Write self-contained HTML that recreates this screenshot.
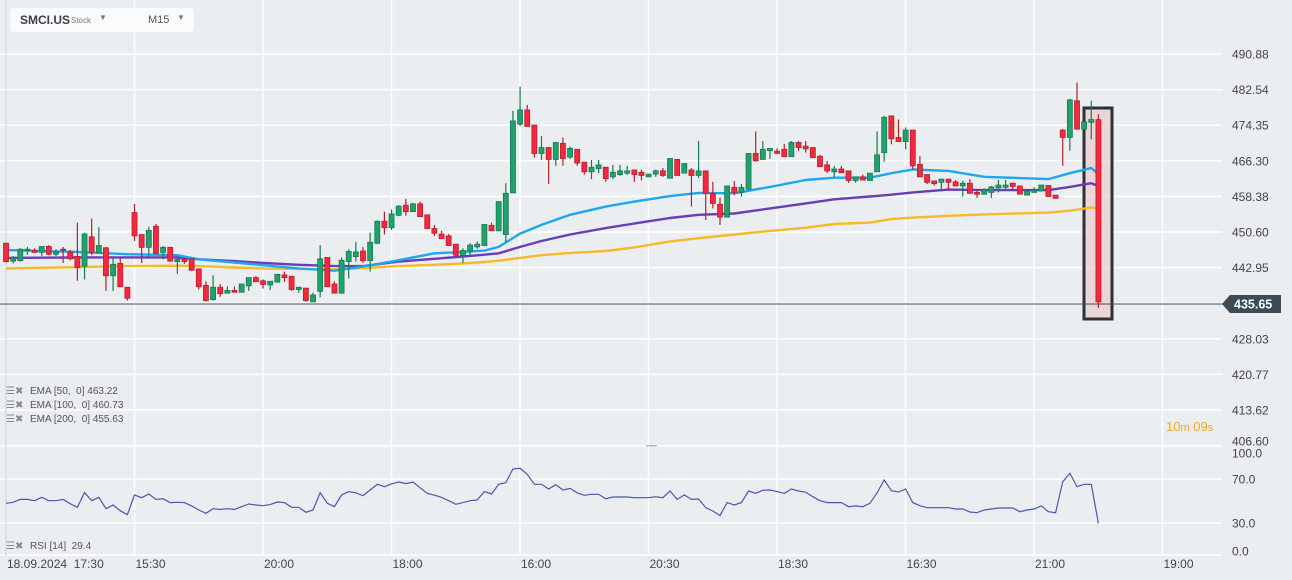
<!DOCTYPE html>
<html><head><meta charset="utf-8">
<style>
html,body{margin:0;padding:0;background:#ebeef1;}
#wrap{position:relative;width:1292px;height:580px;overflow:hidden;font-family:"Liberation Sans",sans-serif;background:#ebeef1;}
svg{position:absolute;left:0;top:0;}
.hdr{position:absolute;left:10px;top:8px;width:184px;height:24px;background:#fafbfc;border-radius:3px;box-shadow:0 0 1px rgba(0,0,0,0.1);}
.leg{position:absolute;left:6px;font-size:10px;color:#555;white-space:nowrap;}
.leg i{display:inline-block;font-style:normal;color:#888;width:24px;font-size:10px;}
</style></head>
<body>
<div id="wrap">
<svg id="chart" width="1292" height="580"></svg>
<div class="hdr">
  <span style="position:absolute;left:10px;top:5px;font-size:12px;font-weight:bold;color:#3a3f45;">SMCI.US</span>
  <span style="position:absolute;left:61px;top:8px;font-size:8px;color:#777;">Stock</span>
  <span style="position:absolute;left:89px;top:5px;font-size:8px;color:#777;">▼</span>
  <span style="position:absolute;left:138px;top:6px;font-size:11px;color:#555;">M15</span>
  <span style="position:absolute;left:167px;top:5px;font-size:8px;color:#777;">▼</span>
</div>
<div class="leg" style="top:386px"><i>☰✖</i>EMA [50,&nbsp; 0] 463.22</div>
<div class="leg" style="top:400px"><i>☰✖</i>EMA [100,&nbsp; 0] 460.73</div>
<div class="leg" style="top:414px"><i>☰✖</i>EMA [200,&nbsp; 0] 455.63</div>
<div class="leg" style="top:541px"><i>☰✖</i>RSI [14]&nbsp; 29.4</div>
<div style="position:absolute;left:1166px;top:419px;color:#f5a623;font-size:13px;">10<span style="font-size:11px">m</span> 09<span style="font-size:11px">s</span></div>
</div>
<script>
const O=[448.9,445.0,445.1,447.3,447.3,446.9,448.2,446.5,447.6,447.0,
446.0,443.9,450.3,446.8,447.9,441.8,444.5,439.3,455.6,450.8,
448.0,452.6,446.9,448.0,444.9,445.4,445.5,443.3,439.7,436.6,
439.3,438.0,438.6,438.2,439.6,441.4,440.7,439.8,440.4,442.0,
441.7,438.8,439.1,436.1,438.4,445.8,440.0,438.0,444.9,446.0,
447.2,445.1,448.9,453.7,452.3,455.0,457.2,455.8,457.5,455.1,
452.1,450.9,450.5,448.7,446.2,447.2,448.1,448.4,452.8,451.6,
450.8,459.9,474.9,478.0,474.7,468.5,469.8,467.2,470.7,467.7,
469.4,466.6,464.5,465.2,465.5,463.4,463.9,464.2,464.9,464.4,
463.4,464.0,464.7,463.1,467.2,464.2,464.9,463.7,464.7,459.8,
457.4,454.6,461.1,460.0,460.7,468.5,467.2,469.1,469.0,469.4,
467.8,470.9,470.1,469.8,467.9,466.0,464.5,465.1,464.7,462.6,
463.4,462.6,464.5,468.7,476.7,472.0,471.1,473.6,466.1,463.9,
462.5,462.2,462.9,462.3,461.4,462.0,460.0,459.6,460.0,461.0,
461.1,462.0,461.4,459.4,460.0,460.3,461.5,459.4,473.6,472.0,
480.0,473.8,475.3,475.9];
const H=[449.0,446.1,447.8,448.1,447.8,448.2,448.5,447.6,448.1,447.4,
453.4,451.2,454.3,452.4,448.1,445.8,445.6,439.3,457.5,450.8,
452.5,453.1,448.3,448.1,446.1,445.8,445.6,443.4,440.6,441.9,
440.0,439.5,439.5,440.0,441.4,441.7,441.0,440.6,442.1,442.7,
441.7,439.3,439.1,438.1,448.5,445.8,440.6,445.8,447.6,449.2,
448.1,451.2,453.9,455.8,456.3,457.2,458.6,457.7,458.0,455.2,
452.9,451.6,450.9,448.7,447.8,448.9,449.3,453.0,453.4,458.0,
462.0,477.8,483.1,479.1,474.7,472.3,469.8,470.9,472.0,470.0,
469.4,466.6,467.1,467.1,465.5,466.0,466.0,465.8,464.9,465.0,
464.0,465.0,465.3,467.4,467.2,466.3,465.3,471.2,464.7,462.3,
458.9,461.4,462.5,461.8,468.5,473.3,471.2,469.6,469.6,470.6,
471.2,471.2,471.2,469.8,468.2,466.9,465.8,465.8,464.7,463.4,
463.9,464.2,473.3,476.7,476.7,475.9,474.2,473.6,467.9,463.9,
462.5,462.9,462.9,462.7,462.5,462.9,460.5,460.9,461.4,462.7,
462.7,462.0,461.4,460.3,461.1,461.6,461.5,459.4,473.8,480.4,
484.0,475.4,480.0,477.1];
const L=[444.7,444.5,444.9,446.4,446.8,446.1,446.3,446.1,444.6,445.2,
440.7,441.0,446.3,446.8,438.5,438.5,439.4,436.4,449.4,444.6,
445.8,446.5,445.4,444.9,442.2,444.4,442.9,438.8,436.2,436.4,
437.2,438.0,438.2,438.2,438.5,440.5,439.0,438.7,440.4,440.5,
438.5,438.1,436.1,436.1,437.1,439.4,438.0,438.0,441.2,444.9,
444.6,442.7,448.7,450.8,451.8,454.8,454.9,455.8,454.7,452.0,
450.5,449.9,448.4,446.1,444.6,446.1,447.7,448.4,451.6,451.6,
449.2,459.9,474.5,474.4,467.6,467.1,461.8,465.8,465.8,467.3,
465.8,463.9,462.9,464.2,462.3,462.9,463.6,463.8,462.3,462.6,
463.4,463.4,463.4,463.1,463.7,464.2,456.9,463.1,454.0,456.5,
452.9,454.6,459.4,459.1,460.7,466.7,467.2,467.3,468.5,467.8,
467.8,469.0,468.7,467.6,465.6,464.2,463.3,464.2,462.1,462.1,
462.7,462.6,464.5,466.7,470.5,471.1,469.4,465.0,463.3,461.8,
461.5,460.2,460.5,461.4,459.1,459.8,458.8,459.6,458.8,460.0,
460.5,460.7,459.6,459.4,460.0,460.3,459.1,458.7,465.8,469.1,
473.8,473.8,471.6,434.8];
const C=[444.9,445.7,447.6,447.6,446.9,448.2,446.5,447.0,447.4,445.5,
443.6,450.9,446.9,448.4,441.8,444.3,439.4,436.9,450.5,448.0,
451.7,446.7,448.0,445.0,445.4,444.9,443.0,439.4,436.4,439.3,
437.9,438.6,438.2,440.0,441.4,440.5,439.9,440.6,442.1,441.4,
438.8,439.3,436.4,437.6,445.5,439.4,438.0,445.2,447.1,447.0,
445.1,449.1,453.7,452.3,455.3,457.0,455.8,457.5,454.7,452.1,
451.1,449.9,448.4,446.3,447.3,448.5,448.7,453.0,451.6,458.0,
459.8,475.6,478.0,474.4,468.5,469.8,467.2,470.9,467.4,469.6,
466.4,464.5,465.5,466.0,463.0,464.4,464.7,464.7,463.9,463.7,
464.0,464.7,463.7,467.4,463.7,466.3,463.7,464.7,459.8,457.6,
454.6,461.4,460.0,461.1,468.5,466.9,469.4,469.6,468.5,467.8,
470.9,469.8,469.5,467.6,465.6,464.7,465.1,464.3,462.6,463.4,
462.7,464.2,468.2,476.4,471.7,471.1,473.6,465.8,463.4,462.2,
461.9,462.9,462.2,461.4,462.0,459.8,459.6,460.5,461.2,461.6,
461.6,461.3,459.6,460.3,460.5,461.6,459.1,458.7,472.0,480.2,
473.8,475.4,475.9,436.1];
const emaIdx=[0,10,17,24,27,32,36,41,46,50,55,60,64,67,69,72,75,79,84,88,93,97,102,107,112,116,121,124,127,132,137,146,149,152,153];
const ema50=[447.4,447.0,446.5,446.3,445.4,444.7,444.1,443.4,442.9,443.8,445.2,446.7,447.0,447.3,448.1,451.0,452.9,455.1,456.9,458.0,459.2,459.9,459.8,461.2,462.7,463.2,463.2,464.2,465.0,464.7,463.4,462.9,464.2,465.3,464.0];
const ema100=[445.7,445.8,445.8,445.8,445.4,445.0,444.6,444.2,443.9,443.9,444.9,445.5,446.0,446.4,446.7,448.1,449.4,450.8,452.2,453.2,454.4,455.1,455.4,456.5,457.6,458.5,459.1,459.5,460.0,460.6,460.5,460.5,461.2,462.0,461.4];
const ema200=[443.4,443.7,443.9,444.0,443.9,443.6,443.4,443.3,443.2,443.5,443.9,444.2,444.5,444.8,445.1,445.7,446.3,446.8,447.2,448.0,449.3,450.0,450.8,451.6,452.3,453.1,453.4,454.2,454.5,454.9,455.2,455.6,456.0,456.7,456.4];
const rsi=[47.9,48.8,51.5,51.5,50.3,53.4,50.3,50.3,51.5,47.5,
44.3,57.6,50.3,53.4,43.0,46.4,41.2,37.6,55.5,53.0,
56.4,51.5,52.0,48.5,48.8,48.5,45.5,41.8,38.8,43.0,
42.4,43.0,42.4,44.8,47.3,46.4,45.7,46.7,49.1,48.5,
44.3,44.3,39.7,41.8,57.5,47.9,44.8,55.5,58.5,57.5,
54.8,60.0,65.2,63.0,65.5,67.3,65.8,67.3,62.0,57.0,
55.3,53.4,50.3,47.0,48.5,50.3,50.9,58.5,56.4,65.2,
66.7,79.1,79.7,74.3,65.2,65.2,60.9,64.8,60.0,61.5,
57.5,55.2,56.1,56.1,52.1,53.6,53.6,53.6,53.0,53.0,
53.0,53.9,53.0,59.1,51.5,55.5,51.5,51.8,43.9,40.9,
36.7,48.5,46.4,48.5,59.1,57.0,59.7,60.0,58.5,57.0,
60.9,59.1,57.9,53.9,50.3,48.5,48.5,48.5,44.8,45.5,
44.8,47.9,57.5,69.1,59.4,58.2,60.9,48.5,45.7,43.9,
43.9,43.9,43.9,42.7,42.7,40.0,39.4,41.8,42.7,43.6,
43.6,43.6,40.3,41.8,42.7,45.5,40.3,39.4,67.5,75.2,
63.0,65.2,65.2,29.7];
const priceTicks=["490.88","482.54","474.35","466.30","458.38","450.60","442.95","","428.03","420.77","413.62","406.60"];
const rsiTicks=[100,70,30,0];
const rsiTickLabels=["100.0","70.0","30.0","0.0"];
const timeLabels=["18.09.2024  17:30","15:30","20:00","18:00","16:00","20:30","18:30","16:30","21:00","19:00"];
const lastPrice=435.65;

const NS="http://www.w3.org/2000/svg";
const svg=document.getElementById('chart');
function xOf(i){return 6+i*7.14;}
function yOf(p){return (502.0-p)/0.2183;}
function gridY(k){return 54+k*35.6;}
function rsiY(v){return 479-(v-70)*1.1;}
function gridX(k){return 6+k*128.5;}
function mk(tag,attrs,parent){const e=document.createElementNS(NS,tag);for(const k in attrs)e.setAttribute(k,attrs[k]);(parent||svg).appendChild(e);return e;}

// grid
for(let k=0;k<12;k++){
  const g=mk('line',{x1:0,x2:1222,y1:gridY(k),y2:gridY(k),stroke:'#ffffff','stroke-width':1.5});
  
  
}
[446,479,523,555].forEach(y=>{
  const g=mk('line',{x1:0,x2:1222,y1:y,y2:y,stroke:'#ffffff','stroke-width':1.5});
  
  
});
for(let k=0;k<timeLabels.length;k++){
  const g=mk('line',{x1:gridX(k),x2:gridX(k),y1:0,y2:556,stroke:k==0?'#d8dce0':'#ffffff','stroke-width':1.5});
  
  
}
// splitter mark
const sp=mk('rect',{x:646,y:445,width:11,height:1.5,fill:'#b8bcc0'});



// highlight box
const hb=mk('rect',{x:1084,y:108,width:28,height:211,fill:'rgba(235,205,205,0.75)',stroke:'#2a3238','stroke-width':3});



// EMA lines
function emaLine(vals,color,name){
  let d='';
  for(let j=0;j<emaIdx.length;j++){d+=(j?'L':'M')+xOf(emaIdx[j]).toFixed(1)+' '+yOf(vals[j]).toFixed(1);}
  const p=mk('path',{d:d,fill:'none',stroke:color,'stroke-width':2.4,'stroke-linejoin':'round'});
  
  
}
emaLine(ema200,'#f8b928','ema200-line');
emaLine(ema100,'#6a3db8','ema100-line');
emaLine(ema50,'#1ba8ee','ema50-line');

// candles
for(let i=0;i<O.length;i++){
  const up=C[i]>=O[i];
  const fill=up?'#1fa36c':'#f4283f', st=up?'#157a4e':'#b81d2e';
  const x=xOf(i);
  const g=mk('g',{});
  
  
  mk('line',{x1:x,x2:x,y1:yOf(H[i]),y2:yOf(L[i]),stroke:st,'stroke-width':1.2},g);
  const top=yOf(Math.max(O[i],C[i])), bot=yOf(Math.min(O[i],C[i]));
  mk('rect',{x:x-2.5,y:top,width:5,height:Math.max(1,bot-top),fill:fill,stroke:st,'stroke-width':0.8},g);
}

// current price line
const cpl=mk('line',{x1:0,x2:1222,y1:yOf(lastPrice),y2:yOf(lastPrice),stroke:'#3d4b57','stroke-width':1});


const ty=yOf(lastPrice);
const tag=mk('path',{d:`M1222 ${ty} L1230 ${ty-9} L1281 ${ty-9} L1281 ${ty+9} L1230 ${ty+9} Z`,fill:'#3d4b57'});


const tt=mk('text',{x:1234,y:ty+4.5,fill:'#ffffff','font-size':12.5,'font-weight':'bold','font-family':'Liberation Sans, sans-serif'});
tt.textContent=lastPrice.toFixed(2);



// price axis labels
for(let k=0;k<priceTicks.length;k++){
  if(!priceTicks[k])continue;
  const t=mk('text',{x:1232,y:Math.min(gridY(k),441)+4.5,fill:'#444','font-size':12,'font-family':'Liberation Sans, sans-serif'});
  t.textContent=priceTicks[k];
  
  
}
// RSI
let d='';
for(let i=0;i<rsi.length;i++){d+=(i?'L':'M')+xOf(i).toFixed(1)+' '+rsiY(rsi[i]).toFixed(1);}
const rl=mk('path',{d:d,fill:'none',stroke:'#4b56b2','stroke-width':1.2});


for(let k=0;k<rsiTicks.length;k++){
  const t=mk('text',{x:1232,y:Math.max(453,Math.min(rsiY(rsiTicks[k]),551))+4.5,fill:'#444','font-size':12,'font-family':'Liberation Sans, sans-serif'});
  t.textContent=rsiTickLabels[k];
  
  
}
// time labels
for(let k=0;k<timeLabels.length;k++){
  const t=mk('text',{x:gridX(k)+1,y:568,fill:'#444','font-size':12,'font-family':'Liberation Sans, sans-serif','xml:space':'preserve'});
  t.setAttribute('style','white-space:pre');
  t.textContent=timeLabels[k];
  
  
}
</script>
</body></html>
